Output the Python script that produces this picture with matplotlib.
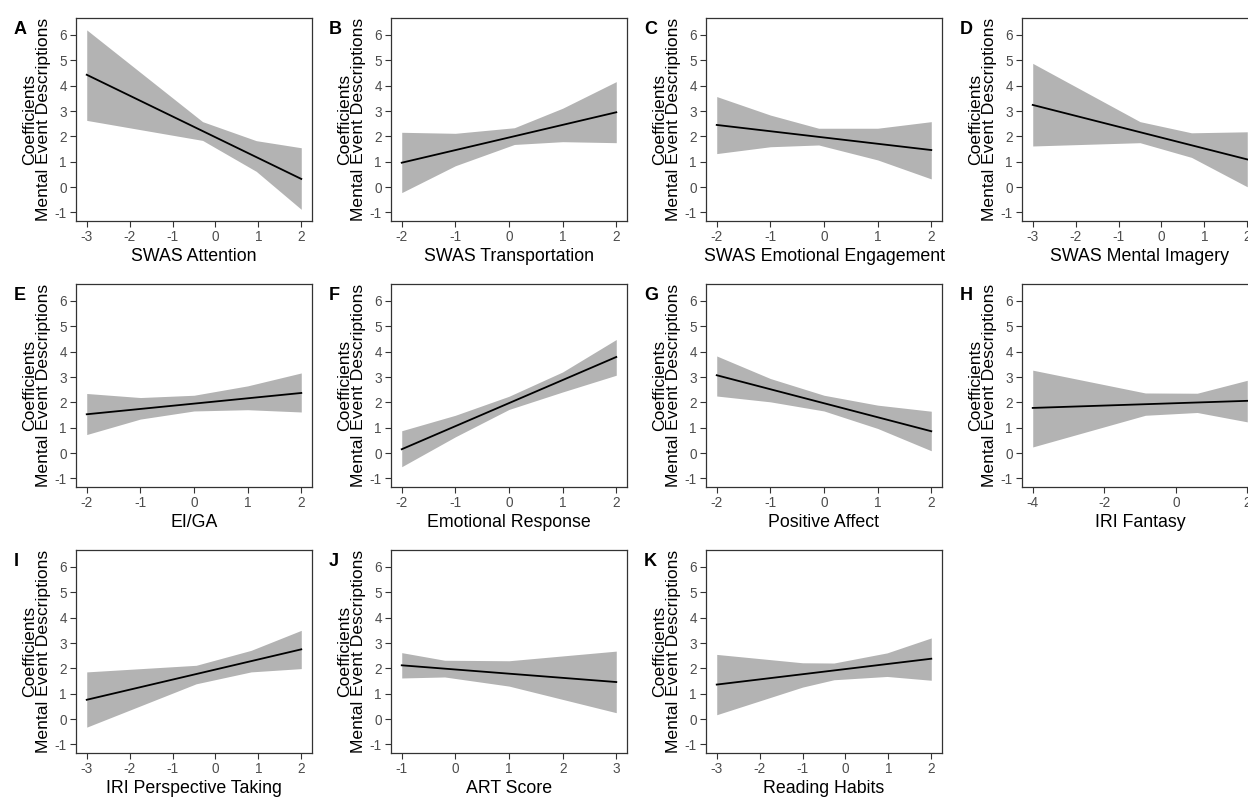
import matplotlib
matplotlib.use('Agg')
import matplotlib.pyplot as plt

# Panel texts
panel_letters = ['A', 'B', 'C', 'D', 'E', 'F', 'G', 'H', 'I', 'J', 'K']
x_titles = ['SWAS Attention', 'SWAS Transportation', 'SWAS Emotional Engagement',
            'SWAS Mental Imagery', 'EI/GA', 'Emotional Response', 'Positive Affect',
            'IRI Fantasy', 'IRI Perspective Taking', 'ART Score', 'Reading Habits']
x_ticks = [[-3, -2, -1, 0, 1, 2], [-2, -1, 0, 1, 2], [-2, -1, 0, 1, 2],
           [-3, -2, -1, 0, 1, 2], [-2, -1, 0, 1, 2], [-2, -1, 0, 1, 2],
           [-2, -1, 0, 1, 2], [-4, -2, 0, 2], [-3, -2, -1, 0, 1, 2],
           [-1, 0, 1, 2, 3], [-3, -2, -1, 0, 1, 2]]
y_ticks = [-1, 0, 1, 2, 3, 4, 5, 6]

# Confidence band vertices
band_x = [[-3, -0.3, 0.95, 2], [-2, -1, 0.1, 1, 2], [-2, -1, -0.1, 1, 2],
          [-3, -0.5, 0.7, 2], [-2, -1, 0, 1, 2], [-2, -1, 0, 1, 2],
          [-2, -1, 0, 1, 2], [-4, -0.85, 0.6, 2], [-3, -0.45, 0.83, 2],
          [-1, -0.2, 1, 3], [-3, -1, -0.27, 0.97, 2]]
band_upper = [[6.2, 2.58, 1.83, 1.55], [2.16, 2.12, 2.34, 3.11, 4.16],
              [3.57, 2.84, 2.32, 2.32, 2.58], [4.88, 2.58, 2.14, 2.18],
              [2.35, 2.19, 2.28, 2.65, 3.16], [0.88, 1.49, 2.24, 3.2, 4.48],
              [3.83, 2.94, 2.28, 1.89, 1.65], [3.27, 2.37, 2.36, 2.87],
              [1.86, 2.12, 2.71, 3.5], [2.62, 2.32, 2.3, 2.68],
              [2.55, 2.22, 2.21, 2.61, 3.2]]
band_lower = [[2.63, 1.84, 0.62, -0.88], [-0.22, 0.84, 1.68, 1.79, 1.75],
              [1.32, 1.59, 1.66, 1.07, 0.32], [1.62, 1.75, 1.17, 0.01],
              [0.73, 1.34, 1.66, 1.71, 1.62], [-0.54, 0.64, 1.72, 2.41, 3.07],
              [2.25, 2.02, 1.66, 0.97, 0.09], [0.24, 1.49, 1.6, 1.23],
              [-0.32, 1.39, 1.86, 1.99], [1.62, 1.66, 1.3, 0.25],
              [0.17, 1.26, 1.55, 1.68, 1.53]]
# Fitted line value at left and right end
fit_start = [4.43, 0.96, 2.45, 3.24, 1.53, 0.15, 3.07, 1.78, 0.76, 2.12, 1.36]
fit_end = [0.32, 2.95, 1.46, 1.09, 2.37, 3.79, 0.86, 2.06, 2.75, 1.46, 2.38]

W, H = 1248, 797
col_left = [76, 391, 706, 1022]
row_top = [18, 284, 550]
ax_w, ax_h = 236, 203

plt.rcParams['font.family'] = 'Liberation Sans'
plt.rcParams['axes.unicode_minus'] = False

fig = plt.figure(figsize=(W / 100, H / 100), dpi=100)

for i in range(len(panel_letters)):
	r, c = i // 4, i % 4
	left = col_left[c]
	top = row_top[r]
	ax = fig.add_axes([left / W, 1 - (top + ax_h) / H, ax_w / W, ax_h / H])
	xs = band_x[i]
	ax.fill_between(xs, band_lower[i], band_upper[i], color='#b3b3b3', linewidth=0)
	ax.plot([xs[0], xs[-1]], [fit_start[i], fit_end[i]], color='black', linewidth=1.3)
	rng = xs[-1] - xs[0]
	ax.set_xlim(xs[0] - 0.05 * rng, xs[-1] + 0.05 * rng)
	ax.set_ylim(-1.34, 6.67)
	ax.set_xticks(x_ticks[i])
	ax.set_yticks(y_ticks)
	ax.tick_params(length=4, width=0.8, color='#333333', labelcolor='#4d4d4d',
		labelsize=9.8, pad=2.5)
	for s in ax.spines.values():
		s.set_color('#333333')
		s.set_linewidth(0.9)
	ax.set_xlabel(x_titles[i], fontsize=12.8, color='black', labelpad=3)
	ax.set_ylabel('Coefficients\nMental Event Descriptions', fontsize=12.6,
		color='black', labelpad=3, linespacing=0.92, multialignment='center')
	fig.text((left - 62) / W, 1 - (top + 3) / H, panel_letters[i],
		fontsize=13, fontweight='bold', va='top', ha='left')

plt.savefig('out.png', dpi=100)
plt.close()
